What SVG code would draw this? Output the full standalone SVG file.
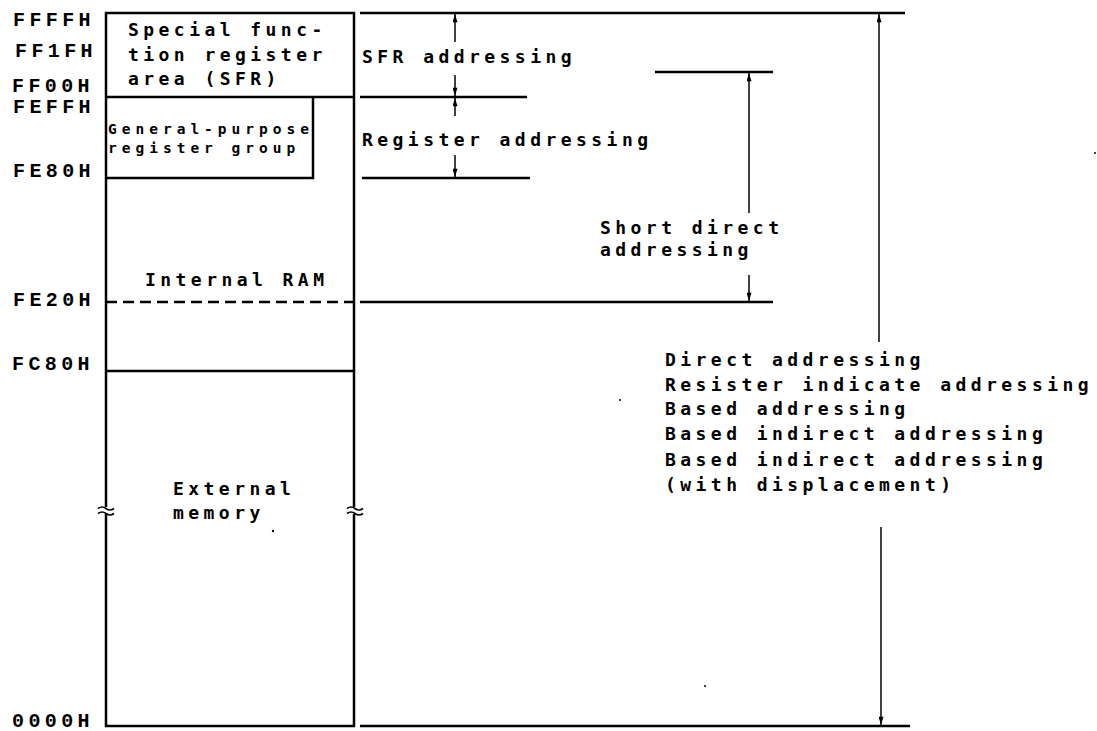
<svg xmlns="http://www.w3.org/2000/svg" width="1097" height="731" viewBox="0 0 1097 731">
<defs>
<style>
.t{font-family:"DejaVu Sans Mono","Liberation Mono",monospace;font-size:18px;letter-spacing:4.45px;fill:#000;font-weight:bold}
.s{font-family:"DejaVu Sans Mono","Liberation Mono",monospace;font-size:14.5px;letter-spacing:5px;fill:#000;font-weight:bold}
.a{font-family:"Liberation Mono","DejaVu Sans Mono",monospace;font-size:20px;letter-spacing:4.4px;fill:#000;font-weight:bold}
.ln{stroke:#000;stroke-width:2.5;fill:none}
.ar{stroke:#000;stroke-width:1.5;fill:none;marker-end:url(#ah)}
.brk{stroke:#000;stroke-width:1.6;fill:none}
</style>
<marker id="ah" viewBox="0 0 10 6" refX="10" refY="3" markerWidth="10" markerHeight="5" markerUnits="userSpaceOnUse" orient="auto">
<path d="M0,0 L10,3 L0,6 z" fill="#000"/>
</marker>
</defs>
<rect width="1097" height="731" fill="#fff"/>

<g id="address-labels">
<text class="a" x="13" y="26">FFFFH</text>
<text class="a" x="15" y="57">FF1FH</text>
<text class="a" x="12" y="92">FF00H</text>
<text class="a" x="13" y="113">FEFFH</text>
<text class="a" x="13" y="177">FE80H</text>
<text class="a" x="13" y="306">FE20H</text>
<text class="a" x="12" y="370">FC80H</text>
<text class="a" x="12" y="727">0000H</text>
</g>

<g id="memory-map">
<rect class="ln" x="106" y="13" width="248" height="713"/>
</g>

<g id="sfr-area">
<line class="ln" x1="106" y1="97" x2="354" y2="97"/>
<text class="t" x="128" y="36">Special func-</text>
<text class="t" x="128" y="61">tion register</text>
<text class="t" x="128" y="85">area (SFR)</text>
</g>

<g id="gp-register-group">
<polyline class="ln" points="313,97 313,178 106,178"/>
<text class="s" x="108" y="134">General-purpose</text>
<text class="s" x="108" y="153">register group</text>
</g>

<g id="internal-ram">
<line class="ln" x1="106" y1="302" x2="354" y2="302" stroke-dasharray="11 6"/>
<line class="ln" x1="106" y1="371" x2="354" y2="371"/>
<text class="t" x="145" y="286">Internal RAM</text>
</g>

<g id="external-memory">
<text class="t" x="173" y="495">External</text>
<text class="t" x="173" y="519">memory</text>
<rect x="99" y="507" width="15" height="7" fill="#fff"/>
<rect x="347" y="507" width="15" height="7" fill="#fff"/>
<path class="brk" d="M98,508.5 q4,-3 8,0 t8,0 M98,513.5 q4,-3 8,0 t8,0"/>
<path class="brk" d="M347,508.5 q4,-3 8,0 t8,0 M347,513.5 q4,-3 8,0 t8,0"/>
</g>

<g id="connectors">
<line class="ln" x1="360" y1="13" x2="905" y2="13"/>
<line class="ln" x1="360" y1="97" x2="527" y2="97"/>
<line class="ln" x1="362" y1="178" x2="530" y2="178"/>
<line class="ln" x1="655" y1="72" x2="773" y2="72"/>
<line class="ln" x1="360" y1="302" x2="773" y2="302"/>
<line class="ln" x1="360" y1="726" x2="910" y2="726"/>
<line class="ar" x1="455" y1="42" x2="455" y2="14"/>
<line class="ar" x1="455" y1="75" x2="455" y2="96"/>
<line class="ar" x1="455" y1="116" x2="455" y2="98"/>
<line class="ar" x1="455" y1="155" x2="455" y2="177"/>
<line class="ar" x1="749" y1="213" x2="749" y2="73"/>
<line class="ar" x1="749" y1="275" x2="749" y2="301"/>
<line class="ar" x1="879" y1="342" x2="879" y2="14"/>
<line class="ar" x1="881" y1="527" x2="881" y2="725"/>
</g>

<g id="addressing-labels">
<text class="t" x="362" y="63">SFR addressing</text>
<text class="t" x="362" y="146">Register addressing</text>
<text class="t" x="600" y="234">Short direct</text>
<text class="t" x="600" y="256">addressing</text>
<text class="t" x="665" y="366">Direct addressing</text>
<text class="t" x="665" y="391">Resister indicate addressing</text>
<text class="t" x="665" y="415">Based addressing</text>
<text class="t" x="665" y="440">Based indirect addressing</text>
<text class="t" x="665" y="466">Based indirect addressing</text>
<text class="t" x="665" y="491">(with displacement)</text>
</g>

<g id="specks" fill="#000">
<circle cx="1095" cy="153" r="1"/>
<circle cx="705" cy="686" r="1"/>
<circle cx="273" cy="531" r="1.2"/>
<circle cx="620" cy="400" r="1"/>
</g>
</svg>
